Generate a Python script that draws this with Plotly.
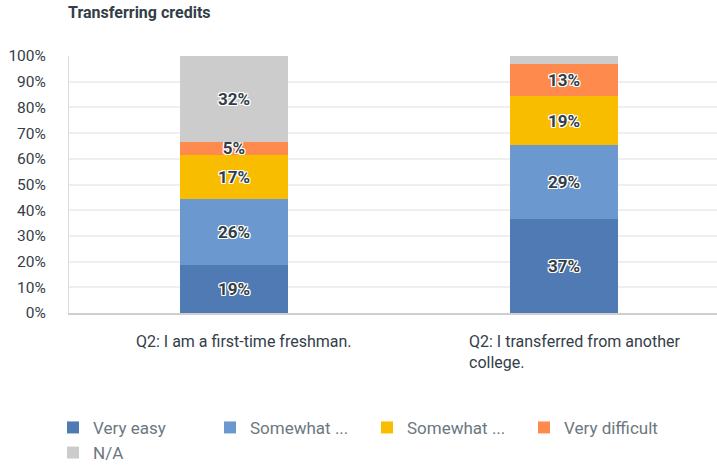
import plotly.graph_objects as go

categories = ["Q2: I am a first-time freshman.", "Q2: I transferred from another college."]
category_labels = ["Q2: I am a first-time freshman.", "Q2: I transferred from another<br>college."]
series_names = ["Very easy", "Somewhat ...", "Somewhat ...", "Very difficult", "N/A"]
very_easy = [18.6, 36.5]
somewhat_easy = [25.6, 28.7]
somewhat_difficult = [17.4, 19.2]
very_difficult = [5.1, 12.3]
not_applicable = [33.3, 3.3]
label_very_easy = ["19%", "37%"]
label_somewhat_easy = ["26%", "29%"]
label_somewhat_difficult = ["17%", "19%"]
label_very_difficult = ["5%", "13%"]
label_not_applicable = ["32%", ""]
colors = ["#4f7ab3", "#6a98cf", "#f9bd00", "#ff8a4e", "#cccccc"]
y_ticks = [0, 10, 20, 30, 40, 50, 60, 70, 80, 90, 100]
y_tick_text = [f"{v}%" for v in y_ticks]

series = [very_easy, somewhat_easy, somewhat_difficult, very_difficult, not_applicable]
labels = [label_very_easy, label_somewhat_easy, label_somewhat_difficult, label_very_difficult, label_not_applicable]

fig = go.Figure()
for name, vals, txt, col in zip(series_names, series, labels, colors):
    fig.add_trace(go.Bar(
        x=[0, 1], y=vals, name=name, text=txt,
        marker=dict(color=col, line=dict(width=0)),
        width=0.327,
        textposition="inside", insidetextanchor="middle", constraintext="none",
        textangle=0,
        textfont=dict(family="Roboto", size=17, color="#333e48", weight="bold",
                      shadow="-1px -1px 0 #fff, 1px -1px 0 #fff, -1px 1px 0 #fff, 1px 1px 0 #fff, 0 1px 0 #fff, 0 -1px 0 #fff, 1px 0 0 #fff, -1px 0 0 #fff"),
        hoverinfo="skip",
    ))

for i, lab in enumerate(category_labels):
    fig.add_annotation(x=i, y=0, xref="x", yref="y", text=lab, showarrow=False,
                       xanchor="center", yanchor="top", align="left", xshift=10, yshift=-17,
                       font=dict(family="Roboto", size=16, color="#333e48"))

fig.update_layout(
    width=717, height=467,
    barmode="stack",
    plot_bgcolor="white", paper_bgcolor="white",
    margin=dict(l=69, r=0, t=56, b=154, autoexpand=False),
    title=dict(text="<b>Transferring credits</b>", x=68/717, xanchor="left", y=1-12/467, yanchor="middle",
               font=dict(family="Roboto", size=16, color="#333e48")),
    xaxis=dict(range=[-0.5, 1.4636], showticklabels=False, showgrid=False, zeroline=False,
               showline=True, linecolor="#cfcfcf", linewidth=2, tickvals=[0, 1], fixedrange=True),
    yaxis=dict(range=[0, 100], tickvals=y_ticks, ticktext=y_tick_text, showgrid=True,
               gridcolor="#efefef", gridwidth=1.5, zeroline=False, showline=True, linecolor="#dddddd",
               linewidth=1, ticks="", ticklabelstandoff=19, automargin=False,
               tickfont=dict(family="Roboto", size=15.5, color="#333e48")),
    showlegend=True,
    legend=dict(orientation="h", x=-16/648, xanchor="left", y=-0.377, yanchor="top",
                entrywidth=112, entrywidthmode="pixels", traceorder="normal",
                font=dict(family="Roboto", size=17, color="#6b787f"), itemwidth=30,
                tracegroupgap=0),
)

fig.write_html("out.html", config={"displayModeBar": False},
               post_script="document.body.style.margin='0';document.body.style.overflow='hidden';")
